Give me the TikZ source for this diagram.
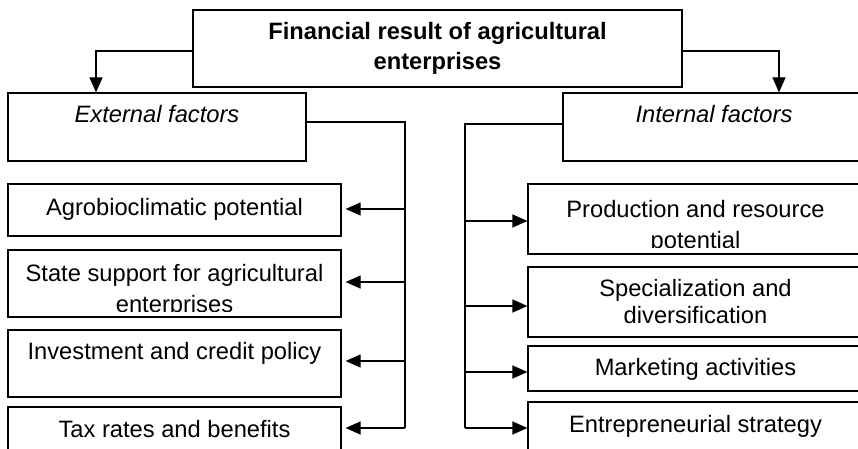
\documentclass[tikz,border=0pt]{standalone}
\usepackage{fontspec}
\setmainfont{Liberation Sans}
\usetikzlibrary{arrows.meta}
\begin{document}
\begin{tikzpicture}[x=1pt,y=-1pt,
  box/.style={draw, line width=1.2pt, rectangle, inner sep=0pt, anchor=center},
  conn/.style={line width=1.2pt},
  arr/.style={line width=1.2pt, -{Triangle[length=15pt,width=13pt]}},
  txt/.style={anchor=base, inner sep=0pt, font=\fontsize{23.7}{28}\selectfont},
  ttl/.style={txt, font=\fontsize{23.7}{28}\selectfont\bfseries},
  itl/.style={txt, font=\fontsize{23.7}{28}\selectfont\itshape},
  ]
\useasboundingbox (0,0) rectangle (858,449);
\fill[white] (0,0) rectangle (858,449);
\clip (0,0) rectangle (858,449);

% boxes
\node[box, minimum width=489pt, minimum height=77pt] (top) at (437.5,48.5) {};
\node[box, minimum width=298pt, minimum height=68pt] (ext) at (157,127) {};
\node[box, minimum width=302pt, minimum height=68pt] (int) at (714,127) {};

\node[box, minimum width=333pt, minimum height=52pt] (agro)  at (174.5,210) {};
\node[box, minimum width=333pt, minimum height=67pt] (state) at (174.5,283.5) {};
\node[box, minimum width=333pt, minimum height=67pt] (inv)   at (174.5,363.5) {};
\node[box, minimum width=333pt, minimum height=63pt] (tax)   at (174.5,438.5) {};

\node[box, minimum width=335pt, minimum height=70pt] (prod) at (695.5,219) {};
\node[box, minimum width=335pt, minimum height=70pt] (spec) at (695.5,302) {};
\node[box, minimum width=335pt, minimum height=45pt] (mark) at (695.5,368.5) {};
\node[box, minimum width=335pt, minimum height=68pt] (entr) at (695.5,436) {};

% texts
\node[ttl] (t1) at (437.5,40) {Financial result of agricultural};
\node[ttl] (t2) at (437.5,70) {enterprises};
\node[itl] (te) at (157,123) {External factors};
\node[itl] (ti) at (714,123) {Internal factors};

\node[txt] (ta) at (174.5,215) {Agrobioclimatic potential};
\node[txt] (ts1) at (174.5,281) {State support for agricultural};
\begin{scope}
  \clip (8,250) rectangle (341,311.5);
  \node[txt] (ts2) at (174.5,312.5) {enterprises};
\end{scope}
\node[txt] (tinv) at (174.5,359) {Investment and credit policy};
\node[txt] (ttax) at (174.5,437) {Tax rates and benefits};

\node[txt] (tp1) at (695.5,217) {Production and resource};
\begin{scope}
  \clip (528,184) rectangle (863,247.5);
  \node[txt] (tp2) at (695.5,248.5) {potential};
\end{scope}
\node[txt] (tsp1) at (695.5,296) {Specialization and};
\node[txt] (tsp2) at (695.5,323) {diversification};
\node[txt] (tm) at (695.5,375) {Marketing activities};
\node[txt] (ten) at (695.5,432) {Entrepreneurial strategy};

% top arrows
\draw[arr] ([yshift=-2.5pt]top.west) -| ([xshift=-61pt]ext.north);
\draw[arr] ([yshift=-2.5pt]top.east) -| ([xshift=65pt]int.north);

% left trunk
\coordinate (lt) at (405,122);
\coordinate (lb) at (405,428);
\coordinate (aE) at ([yshift=1pt]agro.east);
\coordinate (sE) at ([yshift=1.5pt]state.east);
\coordinate (iE) at ([yshift=2.5pt]inv.east);
\draw[conn] ([yshift=5pt]ext.east) -- (lt) -- (lb);
\draw[arr, shorten >=4pt] (lt |- aE) -- (aE);
\draw[arr, shorten >=4pt] (lt |- sE) -- (sE);
\draw[arr, shorten >=4pt] (lt |- iE) -- (iE);
\draw[arr, shorten >=4pt] (lb) -- (lb -| tax.east);

% right trunk
\coordinate (rt) at (465,124);
\coordinate (rb) at (465,428);
\coordinate (pW) at ([yshift=-2pt]prod.west);
\coordinate (spW) at ([yshift=-4pt]spec.west);
\coordinate (mW) at ([yshift=-3.5pt]mark.west);
\draw[conn] ([yshift=3pt]int.west) -- (rt) -- (rb);
\draw[arr] (rt |- pW) -- (pW);
\draw[arr] (rt |- spW) -- (spW);
\draw[arr] (rt |- mW) -- (mW);
\draw[arr] (rb) -- (rb -| entr.west);
\end{tikzpicture}
\end{document}
